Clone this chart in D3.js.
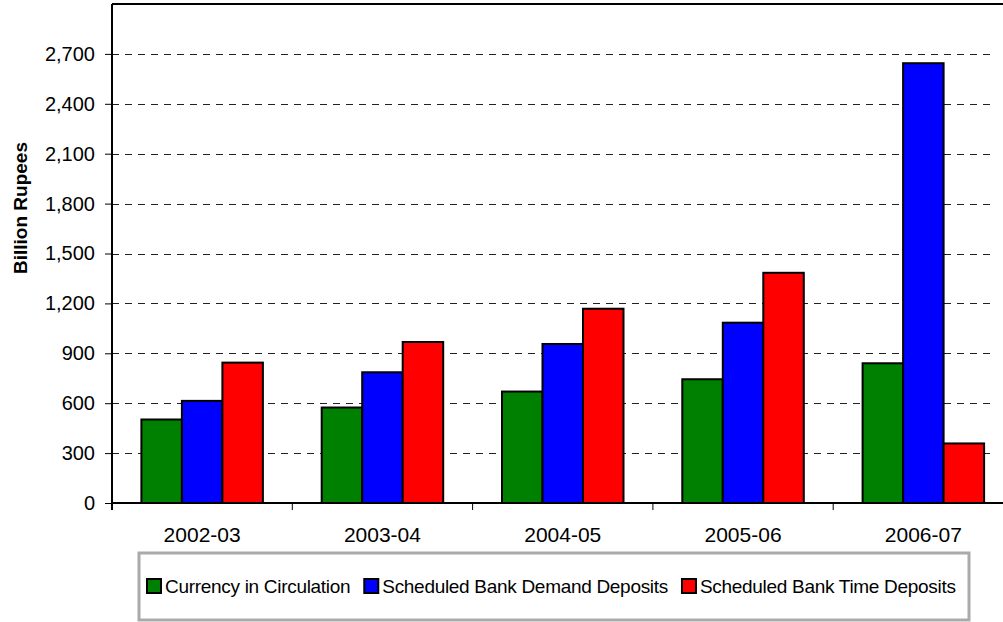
<!DOCTYPE html>
<html>
<head>
<meta charset="utf-8">
<script src="https://cdn.jsdelivr.net/npm/d3@7"></script>
<style>
  body { margin: 0; background: #fff; }
  svg { display: block; font-family: Arial, "Liberation Sans", sans-serif; }
</style>
</head>
<body>
<script>
const categories = ['2002-03', '2003-04', '2004-05', '2005-06', '2006-07'];
const seriesNames = ['Currency in Circulation', 'Scheduled Bank Demand Deposits', 'Scheduled Bank Time Deposits'];
const currency = [502, 574, 670, 744, 840];
const demandDeposits = [614, 786, 956, 1084, 2644];
const timeDeposits = [844, 968, 1168, 1384, 358];
const yTicks = [0, 300, 600, 900, 1200, 1500, 1800, 2100, 2400, 2700];
const colors = ['#008000', '#0000FF', '#FF0000'];

const width = 1003;
const height = 622;
const plotLeft = 112, plotTop = 4, plotBottom = 503;
const band = 180.3;

const svg = d3.select('body').append('svg')
    .attr('width', width)
    .attr('height', height);

const x = d3.scaleBand()
    .domain(categories)
    .range([plotLeft, plotLeft + band * categories.length])
    .paddingInner(0)
    .paddingOuter(0);

const inner = d3.scaleBand()
    .domain(seriesNames)
    .range([0, band])
    .paddingOuter(0.726)
    .paddingInner(0);

const y = d3.scaleLinear()
    .domain([0, 3000])
    .range([plotBottom, plotTop]);

// gridlines
svg.append('g')
  .selectAll('line')
  .data(yTicks.filter(d => d > 0))
  .enter().append('line')
    .attr('x1', plotLeft)
    .attr('x2', 996)
    .attr('y1', d => Math.round(y(d)) + 0.5)
    .attr('y2', d => Math.round(y(d)) + 0.5)
    .attr('stroke', '#222')
    .attr('stroke-width', 1)
    .attr('stroke-dasharray', '7,6');

// bars
const rows = categories.map((c, i) => ({
  cat: c,
  vals: [currency[i], demandDeposits[i], timeDeposits[i]]
}));

const groups = svg.append('g')
  .selectAll('g')
  .data(rows)
  .enter().append('g')
    .attr('transform', d => 'translate(' + x(d.cat) + ',0)');

groups.selectAll('rect')
  .data(d => d.vals.map((v, j) => ({ name: seriesNames[j], v: v, j: j })))
  .enter().append('rect')
    .attr('x', d => inner(d.name))
    .attr('width', inner.bandwidth())
    .attr('y', d => y(d.v))
    .attr('height', d => y(0) - y(d.v))
    .attr('fill', d => colors[d.j])
    .attr('stroke', '#000')
    .attr('stroke-width', 2);

// plot frame top
svg.append('line')
    .attr('x1', plotLeft).attr('x2', width)
    .attr('y1', plotTop).attr('y2', plotTop)
    .attr('stroke', '#000').attr('stroke-width', 2);

// y axis
const yAxis = svg.append('g')
    .attr('transform', 'translate(' + plotLeft + ',0)')
    .call(d3.axisLeft(y)
      .tickValues(yTicks)
      .tickSize(7)
      .tickPadding(10)
      .tickFormat(d3.format(',')));
yAxis.select('.domain')
    .attr('d', 'M0,' + plotTop + 'V' + (plotBottom + 7))
    .attr('stroke-width', 2);
yAxis.selectAll('.tick line').attr('stroke', '#000');
yAxis.selectAll('text')
    .attr('font-size', 20)
    .attr('fill', '#000')
    .attr('font-family', 'Arial, "Liberation Sans", sans-serif');

// x axis
const xAxis = svg.append('g')
    .attr('transform', 'translate(0,' + plotBottom + ')');
xAxis.append('line')
    .attr('x1', plotLeft).attr('x2', width)
    .attr('stroke', '#000').attr('stroke-width', 2);
xAxis.selectAll('.sep')
  .data(categories.slice(1))
  .enter().append('line')
    .attr('x1', d => x(d)).attr('x2', d => x(d))
    .attr('y1', 0).attr('y2', 7)
    .attr('stroke', '#000');
xAxis.selectAll('.lab')
  .data(categories)
  .enter().append('text')
    .attr('x', d => x(d) + x.bandwidth() / 2)
    .attr('y', 39)
    .attr('text-anchor', 'middle')
    .attr('font-size', 21)
    .text(d => d);

// y title
svg.append('text')
    .attr('transform', 'translate(27,208) rotate(-90)')
    .attr('text-anchor', 'middle')
    .attr('font-size', 19)
    .attr('font-weight', 'bold')
    .text('Billion Rupees');

// legend
const legend = svg.append('g');
legend.append('rect')
    .attr('x', 139).attr('y', 553)
    .attr('width', 830).attr('height', 67)
    .attr('fill', '#fff')
    .attr('stroke', '#aaa')
    .attr('stroke-width', 3);

let lx = 147;
seriesNames.forEach((name, j) => {
  legend.append('rect')
      .attr('x', lx).attr('y', 579)
      .attr('width', 14).attr('height', 14)
      .attr('fill', colors[j])
      .attr('stroke', '#000')
      .attr('stroke-width', 2);
  const t = legend.append('text')
      .attr('x', lx + 18)
      .attr('y', 593)
      .attr('font-size', 19)
      .attr('letter-spacing', -0.3)
      .text(name);
  lx += 18 + t.node().getComputedTextLength() + 14;
});
</script>
</body>
</html>
